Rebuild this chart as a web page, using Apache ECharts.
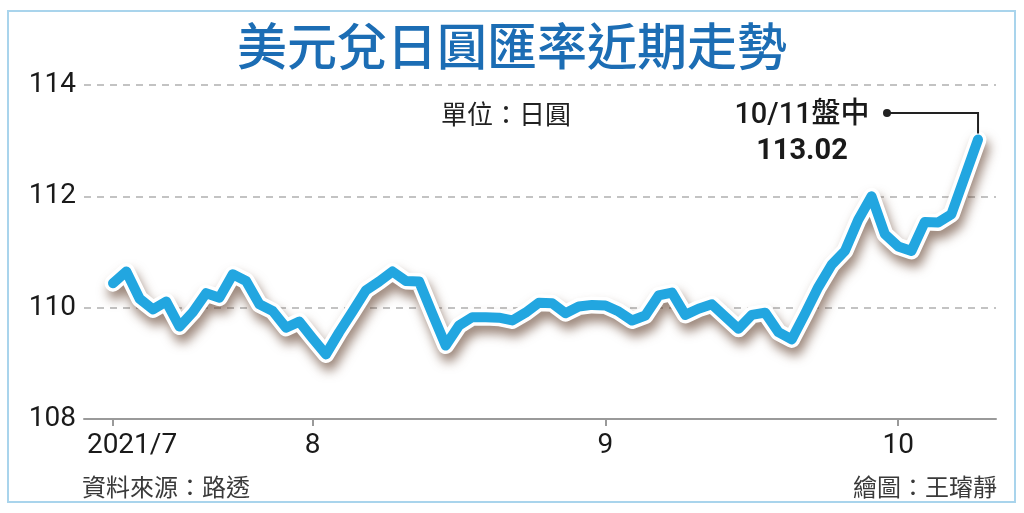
<!DOCTYPE html>
<html><head><meta charset="utf-8">
<script src="https://cdn.jsdelivr.net/npm/echarts@6/dist/echarts.min.js"></script>
<style>html,body{margin:0;padding:0;background:#fff}#c{width:1024px;height:513px}</style>
</head><body><div id="c"></div>
<script>
// Trading days (2021)
const dates = [
 '07/12','07/13','07/14','07/15','07/16','07/19','07/20','07/21','07/22','07/23','07/26','07/27','07/28','07/29','07/30',
 '08/02','08/03','08/04','08/05','08/06','08/09','08/10','08/11','08/12','08/13','08/16','08/17','08/18','08/19','08/20',
 '08/23','08/24','08/25','08/26','08/27','08/30','08/31',
 '09/01','09/02','09/03','09/06','09/07','09/08','09/09','09/10','09/13','09/14','09/15','09/16','09/17','09/20','09/21',
 '09/22','09/23','09/24','09/27','09/28','09/29','09/30',
 '10/01','10/04','10/05','10/06','10/07','10/08','10/11'
];
// USD/JPY (yen per dollar)
const rates = [
 110.44,110.65,110.16,109.97,110.11,109.66,109.92,110.26,110.18,110.60,110.48,110.06,109.94,109.64,109.75,
 109.45,109.16,109.56,109.93,110.31,110.47,110.65,110.48,110.47,109.89,109.32,109.68,109.83,109.83,109.82,
 109.77,109.91,110.09,110.08,109.90,110.02,110.05,
 110.04,109.93,109.77,109.86,110.22,110.27,109.87,109.98,110.06,109.84,109.62,109.87,109.91,109.56,109.43,
 109.89,110.37,110.77,111.02,111.58,112.00,111.32,
 111.10,111.02,111.54,111.53,111.68,112.35,113.02
];
const yTicks = [108, 110, 112, 114];
const titleText = '美元兌日圓匯率近期走勢';
const unitText = '單位：日圓';
const sourceText = '資料來源：路透';
const creditText = '繪圖：王璿靜';
const year = '2021';

// month-start tick indices and labels
const tickIdx = [];
const tickLabels = [];
dates.forEach((d, i) => {
  const m = d.slice(0, 2);
  if (i === 0 || m !== dates[i - 1].slice(0, 2)) {
    tickIdx.push(i);
    tickLabels.push(i === 0 ? year + '/' + parseInt(m, 10) : String(parseInt(m, 10)));
  }
});
const pts = rates.map((v, i) => [i, v]);
const last = pts.length - 1;

const chart = echarts.init(document.getElementById('c'), null, {renderer: 'canvas'});
const fontNum = 'Roboto, "Noto Sans", sans-serif';
const fontCJK = '"Noto Sans CJK TC", "Noto Sans CJK SC", sans-serif';

chart.setOption({
  animation: false,
  backgroundColor: '#fff',
  title: {
    text: titleText, left: 'center', top: 16,
    textStyle: {fontSize: 50, fontWeight: 500, color: '#1c6db4', fontFamily: fontCJK}
  },
  grid: {left: 84, right: 28, top: 85, bottom: 94},
  xAxis: {
    type: 'value', min: -2.18, max: 66.35,
    axisLine: {show: true, lineStyle: {color: '#9a9a9a', width: 2}},
    axisTick: {show: true, customValues: tickIdx, length: 7, lineStyle: {color: '#9a9a9a', width: 2}},
    axisLabel: {
      customValues: tickIdx, margin: 13, color: '#1a1a1a', fontSize: 28, fontFamily: fontNum,
      formatter: (v) => {
        const k = tickIdx.indexOf(Math.round(v));
        if (k < 0) return '';
        return k === 0 ? '{f|' + tickLabels[k] + '}' : tickLabels[k];
      },
      rich: {f: {fontSize: 28, color: '#1a1a1a', fontFamily: fontNum, padding: [0, 0, 0, 38]}}
    },
    splitLine: {show: false}
  },
  yAxis: {
    type: 'value', min: yTicks[0], max: yTicks[yTicks.length - 1], interval: 2,
    axisLine: {show: false}, axisTick: {show: false},
    axisLabel: {color: '#1a1a1a', fontSize: 28, fontFamily: fontNum, margin: 8},
    splitLine: {show: true, lineStyle: {color: '#b0b0b0', type: [7, 6], width: 1.5}}
  },
  series: [
    {
      type: 'line', data: pts, symbol: 'none', silent: true, z: 2,
      lineStyle: {color: '#ffffff', width: 17, join: 'round', cap: 'round',
        shadowColor: 'rgba(90,55,35,0.6)', shadowBlur: 11, shadowOffsetX: 3, shadowOffsetY: 8}
    },
    {
      type: 'line', data: pts, symbol: 'none', silent: true, z: 3,
      lineStyle: {color: '#22a6e0', width: 10, join: 'round', cap: 'round'}
    }
  ]
});

const p = chart.convertToPixel({gridIndex: 0}, pts[last]);
const lastDate = dates[last].split('/').map(n => parseInt(n, 10)).join('/');
chart.setOption({
  graphic: [
    {type: 'rect', z: 0, silent: true, shape: {x: 8, y: 11, width: 1007, height: 491},
     style: {fill: 'none', stroke: '#a9d4ec', lineWidth: 2}},
    {type: 'text', x: 441, y: 114, silent: true,
     style: {text: unitText, fontSize: 26, fill: '#222', fontFamily: fontCJK, verticalAlign: 'middle', align: 'left'}},
    {type: 'text', x: 802, y: 116, silent: true,
     style: {text: lastDate + '盤中', fontSize: 29, fontWeight: 500, fill: '#1a1a1a', fontFamily: fontNum + ',' + fontCJK, verticalAlign: 'middle', align: 'center'}},
    {type: 'text', x: 802, y: 152, silent: true,
     style: {text: rates[last].toFixed(2), fontSize: 29, fontWeight: 'bold', fill: '#1a1a1a', fontFamily: fontNum, verticalAlign: 'middle', align: 'center'}},
    {type: 'polyline', silent: true, z: 10,
     shape: {points: [[887, 113], [p[0], 113], [p[0], p[1] - 6]]},
     style: {stroke: '#222', lineWidth: 2, fill: 'none'}},
    {type: 'circle', silent: true, z: 11, shape: {cx: 887, cy: 113, r: 4}, style: {fill: '#222'}},
    {type: 'text', x: 82, y: 487, silent: true,
     style: {text: sourceText, fontSize: 24, fill: '#3a3a3a', fontFamily: fontCJK, verticalAlign: 'middle', align: 'left'}},
    {type: 'text', x: 997, y: 487, silent: true,
     style: {text: creditText, fontSize: 24, fill: '#3a3a3a', fontFamily: fontCJK, verticalAlign: 'middle', align: 'right'}}
  ]
});
</script>
</body></html>
